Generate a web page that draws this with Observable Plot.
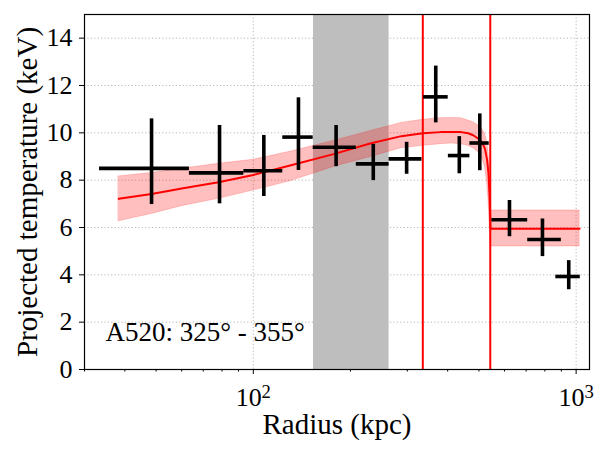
<!DOCTYPE html>
<html><head><meta charset="utf-8">
<script src="https://cdn.jsdelivr.net/npm/d3@7"></script>
<script src="https://cdn.jsdelivr.net/npm/@observablehq/plot@0.6"></script>
<style>
body{margin:0;background:#fff;}
#chart svg{display:block;}
</style></head><body><div id="chart"></div>
<script>
// Data points (radius in kpc, projected temperature in keV)
const radius   = [48.4, 78.6, 107.8, 138, 180.5, 235.3, 298.5, 367.4, 434.6, 503, 621.6, 786.5, 948.6];
const radiusLo = [33.4, 63.4, 93.5, 123.4, 153.3, 208.5, 263.4, 337, 402, 468.7, 548.3, 708, 865];
const radiusHi = [63.4, 93.5, 123.4, 153.3, 208.5, 263.4, 333, 401.5, 468.7, 538, 707.9, 900, 1030];
const temp     = [8.50, 8.31, 8.40, 9.82, 9.39, 8.69, 8.90, 11.52, 9.04, 9.57, 6.33, 5.49, 3.93];
const tempLo   = [6.97, 7.00, 7.31, 8.41, 8.57, 7.98, 8.25, 10.42, 8.27, 8.40, 5.61, 4.77, 3.37];
const tempHi   = [10.59, 10.31, 9.89, 11.48, 10.31, 9.51, 9.60, 12.82, 9.84, 10.80, 7.14, 6.36, 4.60];

// Model curve and its uncertainty band
const modelR  = [38.3, 48.4, 60, 78, 100, 130, 178.5, 230, 287.5, 335, 380, 411, 440, 463, 480, 498, 512, 522, 530, 535, 539, 541.5, 543, 600, 800, 1025];
const modelT  = [7.21, 7.42, 7.65, 7.91, 8.22, 8.62, 9.11, 9.55, 9.86, 9.98, 10.03, 10.04, 10.03, 9.98, 9.90, 9.75, 9.58, 9.32, 8.85, 8.30, 7.40, 6.50, 5.95, 5.95, 5.95, 5.95];
const modelLo = [6.26, 6.57, 6.90, 7.21, 7.56, 7.95, 8.57, 8.97, 9.35, 9.45, 9.52, 9.55, 9.52, 9.45, 9.35, 9.18, 8.95, 8.55, 7.90, 7.20, 6.20, 5.50, 5.20, 5.20, 5.20, 5.20];
const modelHi = [8.16, 8.30, 8.48, 8.69, 8.86, 9.20, 9.67, 10.07, 10.42, 10.55, 10.62, 10.63, 10.62, 10.52, 10.45, 10.31, 10.15, 9.96, 9.60, 9.20, 8.50, 7.60, 6.72, 6.72, 6.72, 6.72];

// Excluded region and shock edges
const grayBand = [{x1: 153.6, x2: 263.4}];
const shockEdges = [335, 542];

// Ticks
const yTicks = [0, 2, 4, 6, 8, 10, 12, 14];
const xMajor = [100, 1000];
const xMinor = [30, 40, 50, 60, 70, 80, 90, 200, 300, 400, 500, 600, 700, 800, 900];

const annotation = "A520: 325° - 355°";
const xLabel = "Radius (kpc)";
const yLabel = "Projected temperature (keV)";

const points = radius.map((r, i) => ({r, rLo: radiusLo[i], rHi: radiusHi[i], t: temp[i], tLo: tempLo[i], tHi: tempHi[i]}));
const model = modelR.map((r, i) => ({r, t: modelT[i], lo: modelLo[i], hi: modelHi[i]}));

const grid = {stroke: "#b8b8b8", strokeOpacity: 1, strokeWidth: 1, strokeDasharray: "1.2,2.2"};

const chart = Plot.plot({
  width: 610, height: 458,
  marginLeft: 84, marginRight: 21, marginTop: 14, marginBottom: 89,
  style: {fontFamily: "'Liberation Serif', 'Times New Roman', serif", background: "white", color: "black"},
  x: {type: "log", domain: [30, 1100]},
  y: {domain: [0, 15]},
  marks: [
    Plot.gridY(yTicks, grid),
    Plot.gridX(xMajor, grid),
    Plot.rect(grayBand, {x1: "x1", x2: "x2", fill: "#bebebe"}),
    Plot.areaY(model, {x: "r", y1: "lo", y2: "hi", fill: "red", fillOpacity: 0.25, stroke: "red", strokeOpacity: 0.18, strokeWidth: 1}),
    Plot.line(model, {x: "r", y: "t", stroke: "red", strokeWidth: 2}),
    Plot.ruleX(shockEdges, {stroke: "red", strokeWidth: 2}),
    Plot.ruleX(points, {x: "r", y1: "tLo", y2: "tHi", stroke: "black", strokeWidth: 3.6}),
    Plot.ruleY(points, {y: "t", x1: "rLo", x2: "rHi", stroke: "black", strokeWidth: 3.6}),
    Plot.text([annotation], {text: d => d, frameAnchor: "bottom-left", textAnchor: "start", dx: 21, dy: -29, fontSize: 27}),
    Plot.axisY(yTicks, {tickSize: 5, tickPadding: 7, fontSize: 26, label: null}),
    Plot.axisX(xMinor, {tickSize: 2.5, tickFormat: () => "", label: null}),
    Plot.axisX(xMajor, {tickSize: 5, tickPadding: 13, fontSize: 26, label: null, tickFormat: d => "10^" + Math.round(Math.log10(d))}),
    Plot.text([xLabel], {text: d => d, frameAnchor: "bottom", textAnchor: "middle", dy: 64, fontSize: 29}),
    Plot.text([yLabel], {text: d => d, frameAnchor: "left", textAnchor: "middle", dx: -57, rotate: -90, fontSize: 29}),
    Plot.frame({stroke: "black", strokeWidth: 1.2})
  ]
});

// Render superscript exponents in the major x tick labels
chart.querySelectorAll("text").forEach(t => {
  const s = t.textContent;
  const m = /^10\^(\d)$/.exec(s);
  if (m) {
    while (t.firstChild) t.removeChild(t.firstChild);
    const base = document.createElementNS("http://www.w3.org/2000/svg", "tspan");
    base.textContent = "10";
    const sup = document.createElementNS("http://www.w3.org/2000/svg", "tspan");
    sup.textContent = m[1];
    sup.setAttribute("dy", "-0.45em");
    sup.setAttribute("font-size", "72%");
    t.appendChild(base);
    t.appendChild(sup);
  }
});

document.getElementById("chart").appendChild(chart);
</script>
</body></html>
